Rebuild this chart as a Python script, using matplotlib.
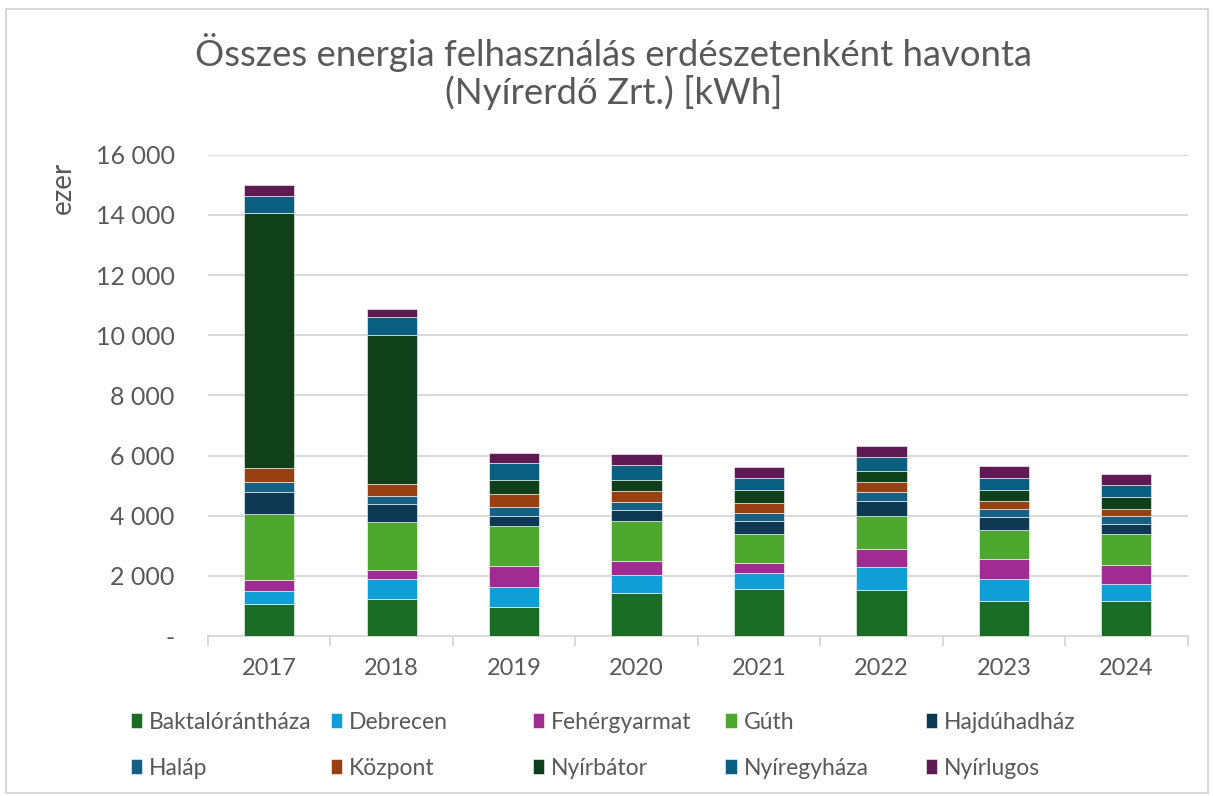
import matplotlib.pyplot as plt
import numpy as np
from matplotlib.patches import Rectangle
from matplotlib.ticker import FuncFormatter

plt.rcParams['font.family'] = ['Lato', 'DejaVu Sans']

# evek es erdeszetek (ezer kWh)
years = ['2017', '2018', '2019', '2020', '2021', '2022', '2023', '2024']
names = ['Baktalórántháza', 'Debrecen', 'Fehérgyarmat', 'Gúth', 'Hajdúhadház',
         'Haláp', 'Központ', 'Nyírbátor', 'Nyíregyháza', 'Nyírlugos']

baktalorantháza = [1050, 1220, 965, 1430, 1555, 1520, 1175, 1175]
debrecen = [460, 675, 675, 600, 550, 765, 720, 555]
fehergyarmat = [355, 310, 690, 465, 315, 600, 655, 630]
guth = [2185, 1575, 1320, 1320, 975, 1095, 965, 1030]
hajduhadhaz = [750, 600, 340, 375, 420, 510, 430, 340]
halap = [330, 285, 290, 265, 265, 310, 265, 255]
kozpont = [445, 390, 445, 375, 335, 330, 285, 225]
nyirbator = [8480, 4955, 465, 355, 430, 345, 345, 410]
nyiregyhaza = [585, 590, 555, 500, 420, 465, 420, 390]
nyirlugos = [355, 265, 335, 355, 345, 365, 390, 385]

series = [baktalorantháza, debrecen, fehergyarmat, guth, hajduhadhaz,
          halap, kozpont, nyirbator, nyiregyhaza, nyirlugos]
colors = ['#1a6b24', '#0f9ed5', '#a02b93', '#4ea72e', '#0d3a52',
          '#166083', '#974012', '#10401a', '#0a5f80', '#5f1a54']

fig = plt.figure(figsize=(12.13, 7.96), dpi=100)
ax = fig.add_axes([0.1715, 0.201, 0.8075, 0.6045])

x = np.arange(len(years))
bottom = np.zeros(len(years))
handles = []
for name, vals, col in zip(names, series, colors):
    b = ax.bar(x, vals, 0.41, bottom=bottom, color=col, label=name,
               edgecolor='white', linewidth=0.4, zorder=3)
    handles.append(b)
    bottom += np.array(vals)

ax.set_xlim(-0.5, len(years) - 0.5)
ax.set_ylim(0, 16000)
ax.set_yticks(np.arange(0, 16001, 2000))
ax.yaxis.set_major_formatter(FuncFormatter(
    lambda v, p: '-' if v == 0 else '{:,.0f}'.format(v).replace(',', ' ')))
ax.grid(axis='y', color='#d9d9d9', linewidth=1.5, zorder=0)
ax.set_xticks(x)
ax.set_xticklabels(years)
ax.set_xticks(np.arange(-0.5, len(years), 1), minor=True)
ax.tick_params(axis='x', which='major', length=0, pad=16, labelsize=17, labelcolor='#595959')
ax.tick_params(axis='x', which='minor', length=7, width=1.5, color='#d9d9d9')
ax.tick_params(axis='y', length=0, pad=24, labelsize=18, labelcolor='#595959')
for s in ['top', 'right', 'left']:
    ax.spines[s].set_visible(False)
ax.spines['bottom'].set_color('#d9d9d9')
ax.spines['bottom'].set_linewidth(1.5)

fig.text(0.506, 0.91, 'Összes energia felhasználás erdészetenként havonta\n(Nyírerdő Zrt.) [kWh]',
         ha='center', va='center', fontsize=26.3, color='#595959', linespacing=1.1)
fig.text(0.052, 0.764, 'ezer', rotation=90, ha='center', va='center',
         fontsize=20, color='#595959')

# legenda: 5 oszlop, egyenletes tavolsag
col_x = [0.091, 0.2557, 0.422, 0.581, 0.746]
for c in range(5):
    fig.legend(handles=[handles[c], handles[c + 5]], labels=[names[c], names[c + 5]],
               loc='upper left', bbox_to_anchor=(col_x[c], 0.132), frameon=False,
               fontsize=16.5, labelcolor='#595959', handlelength=0.5, handleheight=0.6,
               handletextpad=0.3, labelspacing=1.1)

fig.patches.append(Rectangle((0.005, 0.004), 0.991, 0.985, transform=fig.transFigure,
                             fill=False, edgecolor='#d9d9d9', linewidth=1.5))

fig.savefig('out.png', dpi=100)
